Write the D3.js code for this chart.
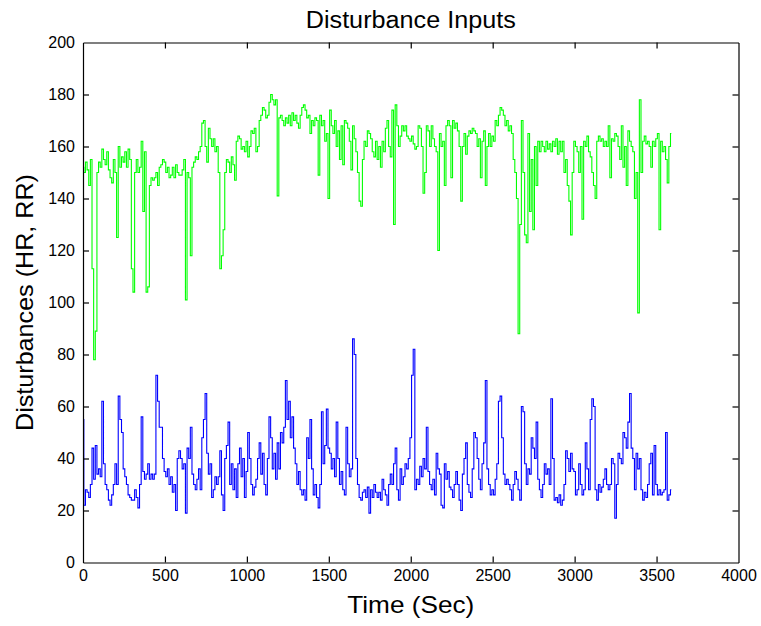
<!DOCTYPE html>
<html>
<head>
<meta charset="utf-8">
<script src="https://cdn.jsdelivr.net/npm/d3@7"></script>
<style>
  html, body { margin: 0; padding: 0; background: #fff; }
  svg { display: block; font-family: "Liberation Sans", Arial, Helvetica, sans-serif; }
</style>
</head>
<body>
<svg id="chart" width="761" height="626"></svg>
<script>
// ---- data ----
const chartTitle = "Disturbance Inputs";
const xLabel = "Time (Sec)";
const yLabel = "Disturbances (HR, RR)";
const sampleStep = 10; // seconds between read-off samples
const xTicks = [0, 500, 1000, 1500, 2000, 2500, 3000, 3500, 4000];
const yTicks = [0, 20, 40, 60, 80, 100, 120, 140, 160, 180, 200];

// upper (green) series
const hrValues = [
  152,150,154,151,145,155,113,78,89,150, 154,152,159,155,153,158,151,148,146,155,
  150,125,160,152,156,154,158,152,159,155, 113,104,150,155,150,152,162,135,158,104,
  106,145,148,147,148,150,145,152,153,155, 154,150,152,148,149,152,148,153,150,149,
  149,151,155,101,150,148,118,152,154,156, 155,158,160,169,170,160,154,167,163,160,
  163,158,160,150,113,118,128,150,155,154, 150,156,153,147,162,164,163,159,160,158,
  162,156,160,166,165,167,158,160,170,172, 175,174,171,172,177,180,178,176,178,141,
  171,172,170,168,171,169,172,168,173,170, 172,169,167,172,175,176,174,171,172,165,
  170,168,171,170,149,172,168,170,162,165, 140,174,168,165,170,160,166,155,168,153,
  170,169,167,162,151,168,163,158,150,139, 137,155,162,160,166,165,163,158,156,162,
  155,160,152,162,158,167,170,160,156,174, 130,176,168,160,164,168,166,168,164,163,
  162,164,161,159,160,168,167,160,142,150, 168,166,160,168,163,160,158,120,165,160,
  162,145,168,170,168,148,170,167,169,166, 160,139,160,165,157,164,166,165,167,166,
  165,160,163,148,162,166,145,160,165,160, 164,162,170,168,172,175,174,172,168,170,
  166,168,165,155,150,140,88,130,170,150, 126,123,165,135,155,128,160,145,162,158,
  162,160,158,162,159,161,158,162,160,163, 157,162,158,162,150,155,145,139,126,150,
  162,160,158,150,160,132,162,160,164,158, 156,150,145,140,162,164,162,163,160,162,
  160,168,148,163,162,165,164,160,155,168, 152,160,145,166,162,160,158,140,150,96,
  178,150,162,164,161,162,160,152,162,160, 163,165,128,162,158,160,155,146,160,165
];

// lower (blue) series
const rrValues = [
  55,22,28,27,25,30,44,32,45,34, 36,33,62,38,30,28,24,22,26,30,
  38,30,64,55,50,36,33,30,26,25, 24,24,28,25,21,30,56,35,32,34,
  38,32,34,32,34,72,62,52,52,40, 35,33,36,30,33,27,30,20,40,43,
  40,36,38,19,44,40,52,34,30,28, 32,36,28,48,55,65,42,34,38,25,
  28,33,30,33,43,26,20,40,45,54, 30,38,28,36,25,38,44,33,40,25,
  35,50,40,30,26,29,32,40,46,34, 42,30,26,40,56,48,36,42,32,46,
  36,50,46,52,70,55,62,48,56,44, 38,30,35,28,26,28,24,48,40,55,
  36,26,30,25,21,30,58,38,45,59, 44,42,36,40,33,54,40,30,35,28,
  26,52,38,33,36,86,80,40,30,25, 24,27,28,25,29,19,28,25,30,27,
  25,27,24,32,28,26,22,30,34,30, 38,44,28,24,36,30,33,38,36,40,
  48,72,82,28,32,30,37,33,40,36, 52,35,30,28,32,26,42,36,34,22,
  21,38,32,35,29,28,25,30,35,30, 24,20,34,40,46,30,27,25,36,50,
  48,40,32,28,38,46,70,36,30,26, 28,26,32,38,62,64,48,34,30,32,
  30,28,24,30,35,32,28,24,60,58, 38,30,36,34,48,44,40,54,32,28,
  25,30,38,34,36,30,63,40,24,25, 23,26,22,24,30,43,40,35,42,36,
  35,26,28,38,30,26,28,46,36,28, 55,63,60,28,24,30,27,29,32,36,
  30,28,30,40,38,17,30,42,40,38, 50,48,44,54,65,44,40,28,42,36,
  40,28,24,27,25,30,38,42,26,45, 30,26,28,26,27,28,50,24,26,28
];

const seriesList = [
  { name: "HR", values: hrValues, color: "#00ff00" },
  { name: "RR", values: rrValues, color: "#0000ff" }
];

// ---- layout ----
const svg = d3.select("#chart");
const plot = { left: 83, right: 738.5, top: 42.5, bottom: 562.5 };

const x = d3.scaleLinear().domain([0, 4000]).range([plot.left, plot.right]);
const y = d3.scaleLinear().domain([0, 200]).range([plot.bottom, plot.top]);

svg.append("defs").append("clipPath").attr("id", "clip")
  .append("rect")
  .attr("x", plot.left).attr("y", plot.top)
  .attr("width", plot.right - plot.left).attr("height", plot.bottom - plot.top);

// series
const line = d3.line()
  .x((d, i) => x(i * sampleStep))
  .y(d => y(d))
  .curve(d3.curveStep);

const g = svg.append("g").attr("clip-path", "url(#clip)");
seriesList.forEach(s => {
  g.append("path")
    .datum(s.values)
    .attr("fill", "none")
    .attr("stroke", s.color)
    .attr("stroke-width", 1.1)
    .attr("stroke-linejoin", "miter")
    .attr("d", line);
});

// axes (MATLAB style box with inward ticks)
const tickLen = 6;
const styleAxis = sel => {
  sel.selectAll("path.domain").attr("stroke", "#000").attr("stroke-width", 1.2);
  sel.selectAll(".tick line").attr("stroke", "#000").attr("stroke-width", 1.2);
  sel.selectAll(".tick text").attr("fill", "#000")
    .style("font-size", "16px")
    .style("font-family", "'Liberation Sans', Arial, Helvetica, sans-serif");
};

svg.append("g")
  .attr("transform", `translate(0,${plot.bottom})`)
  .call(d3.axisBottom(x).tickValues(xTicks).tickFormat(d3.format("d"))
    .tickSize(-tickLen).tickSizeOuter(0).tickPadding(7))
  .call(styleAxis);

svg.append("g")
  .attr("transform", `translate(0,${plot.top})`)
  .call(d3.axisTop(x).tickValues(xTicks).tickFormat("")
    .tickSize(-tickLen).tickSizeOuter(0))
  .call(styleAxis);

svg.append("g")
  .attr("transform", `translate(${plot.left},0)`)
  .call(d3.axisLeft(y).tickValues(yTicks).tickFormat(d3.format("d"))
    .tickSize(-tickLen).tickSizeOuter(0).tickPadding(8))
  .call(styleAxis);

svg.append("g")
  .attr("transform", `translate(${plot.right},0)`)
  .call(d3.axisRight(y).tickValues(yTicks).tickFormat("")
    .tickSize(-tickLen).tickSizeOuter(0))
  .call(styleAxis);

// remove duplicate end ticks coinciding with the box corners
svg.selectAll(".tick").filter(d => d === 0 || d === 4000 || d === 200)
  .select("line").attr("opacity", 0);

// titles
const labelFont = "'Liberation Sans', Arial, Helvetica, sans-serif";
svg.append("text")
  .attr("x", (plot.left + plot.right) / 2)
  .attr("y", 28)
  .attr("text-anchor", "middle")
  .attr("textLength", 210).attr("lengthAdjust", "spacingAndGlyphs")
  .style("font-size", "23px").style("font-family", labelFont)
  .attr("fill", "#000")
  .text(chartTitle);

svg.append("text")
  .attr("x", (plot.left + plot.right) / 2)
  .attr("y", 613)
  .attr("text-anchor", "middle")
  .attr("textLength", 127).attr("lengthAdjust", "spacingAndGlyphs")
  .style("font-size", "24px").style("font-family", labelFont)
  .attr("fill", "#000")
  .text(xLabel);

svg.append("text")
  .attr("transform", `translate(33,${(plot.top + plot.bottom) / 2}) rotate(-90)`)
  .attr("text-anchor", "middle")
  .attr("textLength", 257).attr("lengthAdjust", "spacingAndGlyphs")
  .style("font-size", "24px").style("font-family", labelFont)
  .attr("fill", "#000")
  .text(yLabel);
</script>
</body>
</html>
